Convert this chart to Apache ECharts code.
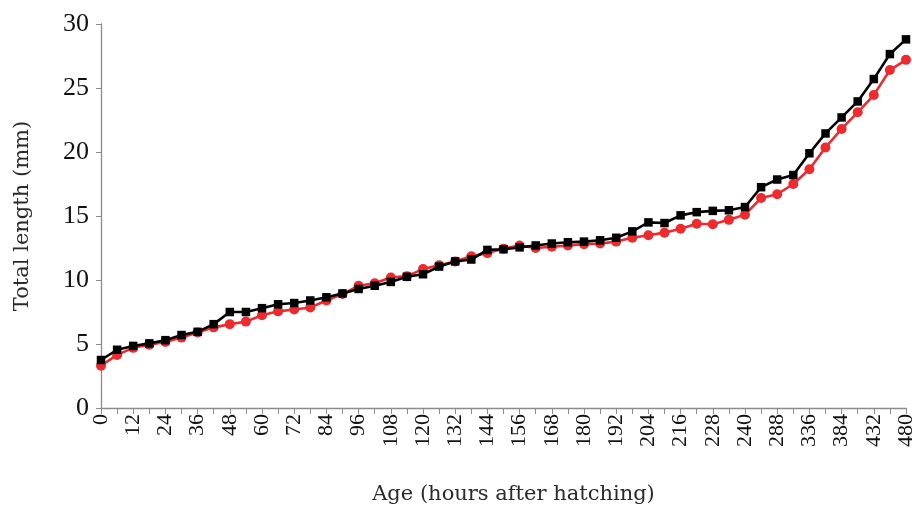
<!DOCTYPE html>
<html>
<head>
<meta charset="utf-8">
<script src="https://cdn.jsdelivr.net/npm/echarts@6/dist/echarts.min.js"></script>
<style>html,body{margin:0;padding:0;background:#fff}#c{width:912px;height:507px}</style>
</head>
<body>
<div id="c"></div>
<script>
const categories = ['0','6','12','18','24','30','36','42','48','54','60','66','72','78','84','90','96','102','108','114','120','126','132','138','144','150','156','162','168','174','180','186','192','198','204','210','216','222','228','234','240','264','288','312','336','360','384','408','432','456','480'];
const blackSeries = [3.75,4.55,4.85,5.05,5.3,5.7,5.95,6.55,7.5,7.5,7.8,8.1,8.2,8.4,8.65,8.95,9.3,9.55,9.85,10.25,10.45,11.05,11.45,11.6,12.35,12.4,12.55,12.7,12.85,12.95,13.0,13.1,13.3,13.8,14.5,14.45,15.05,15.3,15.4,15.45,15.7,17.25,17.85,18.2,19.9,21.45,22.7,23.95,25.7,27.65,28.8];
const redSeries = [3.3,4.15,4.7,4.95,5.15,5.5,5.9,6.3,6.55,6.75,7.25,7.55,7.7,7.85,8.4,8.9,9.55,9.75,10.2,10.3,10.85,11.15,11.45,11.85,12.1,12.45,12.7,12.5,12.6,12.7,12.8,12.85,13.0,13.3,13.5,13.7,14.0,14.4,14.35,14.7,15.1,16.4,16.7,17.5,18.65,20.35,21.8,23.1,24.45,26.4,27.2];
const yTicks = [0,5,10,15,20,25,30];

const chart = echarts.init(document.getElementById('c'));
const serif = 'Liberation Serif';
const nameFont = 'DejaVu Serif';
chart.setOption({
  animation: false,
  grid: {left: 101, right: 6, top: 24, bottom: 99, containLabel: false, outerBoundsMode: 'none'},
  xAxis: {
    type: 'category', data: categories, boundaryGap: false,
    name: 'Age (hours after hatching)', nameLocation: 'middle', nameGap: 76, nameMoveOverlap: false,
    nameTextStyle: {fontFamily: nameFont, fontSize: 21, color: '#2a2a2a', padding: [0, 0, 0, 20]},
    axisLine: {lineStyle: {color: '#8c8c8c', width: 1.3}},
    axisTick: {show: true, interval: 0, length: 6, lineStyle: {color: '#8c8c8c'}},
    axisLabel: {interval: 1, rotate: 90, margin: 6, fontFamily: serif, fontSize: 22, color: '#111', hideOverlap: false},
    splitLine: {show: false}
  },
  yAxis: {
    type: 'value', min: 0, max: 30, interval: 5,
    name: 'Total length (mm)', nameLocation: 'middle', nameGap: 68, nameRotate: 90, nameMoveOverlap: false,
    nameTextStyle: {fontFamily: nameFont, fontSize: 21, color: '#2a2a2a'},
    axisLine: {show: true, lineStyle: {color: '#8c8c8c', width: 1.3}},
    axisTick: {show: true, length: 5, lineStyle: {color: '#8c8c8c'}},
    axisLabel: {margin: 12, fontFamily: serif, fontSize: 26, color: '#111',
      formatter: v => yTicks.includes(v) ? String(v) : ''},
    splitLine: {show: false}
  },
  series: [
    {type: 'line', data: redSeries, symbol: 'circle', symbolSize: 10,
     lineStyle: {color: '#ee2a2e', width: 2.6}, itemStyle: {color: '#ee2a2e'}, z: 2},
    {type: 'line', data: blackSeries, symbol: 'rect', symbolSize: 8.5,
     lineStyle: {color: '#000', width: 2.6}, itemStyle: {color: '#000'}, z: 3}
  ]
});
</script>
</body>
</html>
